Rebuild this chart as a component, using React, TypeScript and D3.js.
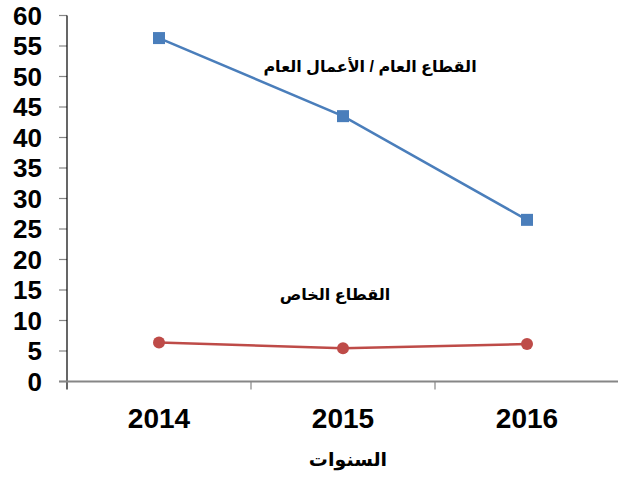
import * as d3 from "d3";
import { useEffect, useRef } from "react";

const years = ["2014", "2015", "2016"];
const publicSector = [56.3, 43.5, 26.5];
const privateSector = [6.4, 5.45, 6.15];
const yTicks = [0, 5, 10, 15, 20, 25, 30, 35, 40, 45, 50, 55, 60];

const publicLabel = "القطاع العام / الأعمال العام";
const privateLabel = "القطاع الخاص";
const xTitle = "السنوات";

const width = 618;
const height = 477;
const font = "'Liberation Sans', Arial, 'DejaVu Sans', sans-serif";

const App: React.FC = () => {
  const ref = useRef<SVGSVGElement>(null);

  useEffect(() => {
    if (!ref.current) return;
    const svg = d3.select(ref.current);
    svg.selectAll("*").remove();

    const left = 67;
    const right = 619;
    const y = d3.scaleLinear().domain([0, 60]).range([381.5, 15.5]);
    const x = d3.scaleBand<string>().domain(years).range([left, right]);
    const cx = (d: string) => (x(d) as number) + x.bandwidth() / 2;

    // y axis
    const yAxis = svg.append("g").attr("font-family", font);
    yAxis
      .selectAll("line.tick")
      .data(yTicks)
      .enter()
      .append("line")
      .attr("x1", left - 8)
      .attr("x2", left)
      .attr("y1", (d) => y(d))
      .attr("y2", (d) => y(d))
      .attr("stroke", "#868686")
      .attr("stroke-width", 1.2);
    yAxis
      .selectAll("text")
      .data(yTicks)
      .enter()
      .append("text")
      .attr("x", 42)
      .attr("y", (d) => y(d))
      .attr("dy", "0.36em")
      .attr("text-anchor", "end")
      .attr("font-size", 26)
      .attr("font-weight", "bold")
      .text((d) => d);
    yAxis
      .append("line")
      .attr("x1", left)
      .attr("x2", left)
      .attr("y1", y(60))
      .attr("y2", y(0) + 8)
      .attr("stroke", "#000")
      .attr("stroke-width", 1.2);

    // x axis
    const xAxis = svg.append("g").attr("font-family", font);
    xAxis
      .append("line")
      .attr("x1", left - 8)
      .attr("x2", right)
      .attr("y1", y(0))
      .attr("y2", y(0))
      .attr("stroke", "#868686")
      .attr("stroke-width", 1.8);
    xAxis
      .selectAll("line.tick")
      .data(years.slice(1))
      .enter()
      .append("line")
      .attr("x1", (d) => x(d) as number)
      .attr("x2", (d) => x(d) as number)
      .attr("y1", y(0))
      .attr("y2", y(0) + 8)
      .attr("stroke", "#868686")
      .attr("stroke-width", 1.2);
    xAxis
      .selectAll("text")
      .data(years)
      .enter()
      .append("text")
      .attr("x", cx)
      .attr("y", 428)
      .attr("text-anchor", "middle")
      .attr("font-size", 28)
      .attr("font-weight", "bold")
      .text((d) => d);
    xAxis
      .append("text")
      .attr("x", 348)
      .attr("y", 466)
      .attr("text-anchor", "middle")
      .attr("font-size", 19)
      .attr("font-weight", "bold")
      .attr("direction", "rtl")
      .text(xTitle);

    const line = d3
      .line<number>()
      .x((_d, i) => cx(years[i]))
      .y((d) => y(d));

    // public sector
    svg
      .append("path")
      .attr("d", line(publicSector))
      .attr("fill", "none")
      .attr("stroke", "#4a7ebb")
      .attr("stroke-width", 2.5);
    svg
      .selectAll("rect.pub")
      .data(publicSector)
      .enter()
      .append("rect")
      .attr("x", (_d, i) => cx(years[i]) - 6)
      .attr("y", (d) => y(d) - 6)
      .attr("width", 12)
      .attr("height", 12)
      .attr("fill", "#4a7ebb");

    // private sector
    svg
      .append("path")
      .attr("d", line(privateSector))
      .attr("fill", "none")
      .attr("stroke", "#be4b48")
      .attr("stroke-width", 2.5);
    svg
      .selectAll("circle.priv")
      .data(privateSector)
      .enter()
      .append("circle")
      .attr("cx", (_d, i) => cx(years[i]))
      .attr("cy", (d) => y(d))
      .attr("r", 6)
      .attr("fill", "#be4b48");

    // series labels
    svg
      .append("text")
      .attr("x", 370)
      .attr("y", 72)
      .attr("text-anchor", "middle")
      .attr("font-family", font)
      .attr("font-size", 16)
      .attr("font-weight", "bold")
      .attr("direction", "rtl")
      .text(publicLabel);
    svg
      .append("text")
      .attr("x", 335)
      .attr("y", 300)
      .attr("text-anchor", "middle")
      .attr("font-family", font)
      .attr("font-size", 16)
      .attr("font-weight", "bold")
      .attr("direction", "rtl")
      .text(privateLabel);
  }, []);

  return (
    <svg
      ref={ref}
      width={width}
      height={height}
      style={{ position: "absolute", left: 0, top: 0, background: "#fff" }}
    ></svg>
  );
};

export default App;
